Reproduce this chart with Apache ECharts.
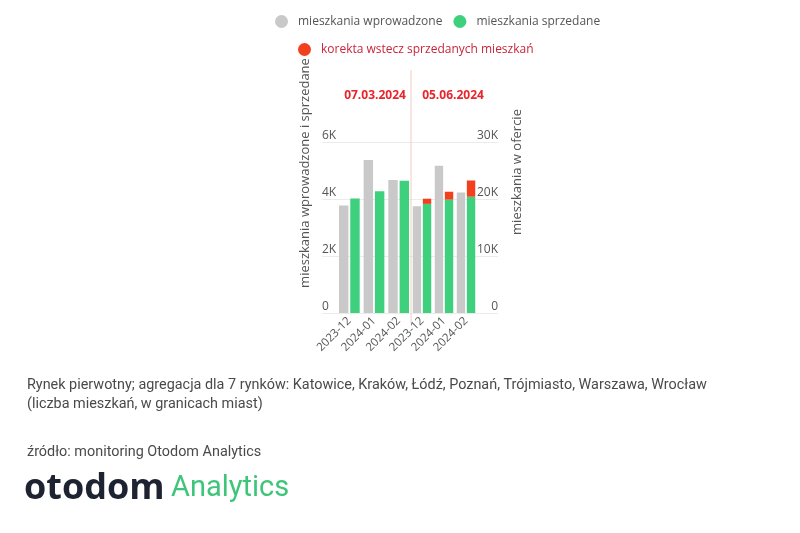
<!DOCTYPE html>
<html>
<head>
<meta charset="utf-8">
<style>
  html, body { margin: 0; padding: 0; background: #fff; }
  #chart { width: 800px; height: 533px; }
</style>
<script src="https://cdn.jsdelivr.net/npm/echarts@6/dist/echarts.min.js"></script>
</head>
<body>
<div id="chart"></div>
<script>
// dane
var months = ['2023-12', '2024-01', '2024-02'];
var snapshotDates = ['07.03.2024', '05.06.2024'];
var leftTicks = [0, 2000, 4000, 6000];
var rightTicks = [0, 10000, 20000, 30000];

// stan z 07.03.2024
var introducedOld = [3770, 5370, 4670];
var soldOld = [4020, 4270, 4640];

// stan z 05.06.2024
var introducedNew = [3750, 5170, 4230];
var soldNew = [3830, 3980, 4080];
var correctionNew = [180, 275, 570];

var GRAY = '#c9c9c9';
var GREEN = '#3fd07e';
var RED = '#f2401f';
var FONT = '"Open Sans", sans-serif';

function fmtK(v) {
  return v === 0 ? '0' : (v / 1000) + 'K';
}

var chart = echarts.init(document.getElementById('chart'));

var option = {
  animation: false,
  textStyle: { fontFamily: FONT },
  legend: [
    {
      data: ['mieszkania wprowadzone', 'mieszkania sprzedane'],
      left: 270, top: 10,
      icon: 'circle', itemWidth: 13, itemHeight: 13, itemGap: 11,
      textStyle: { color: '#555', fontSize: 12, fontFamily: FONT, padding: [0, 0, 0, 5] }
    },
    {
      data: ['korekta wstecz sprzedanych mieszkań'],
      left: 293, top: 38,
      icon: 'circle', itemWidth: 13, itemHeight: 13,
      textStyle: { color: '#c8263a', fontSize: 12, fontFamily: FONT, padding: [0, 0, 0, 5] }
    }
  ],
  grid: [
    // siatka z osiami Y
    { left: 322, right: 302, top: 142, bottom: 220 },
    // słupki: stan z 07.03
    { left: 337, width: 74, top: 142, bottom: 220 },
    // słupki: stan z 05.06
    { left: 411, width: 66, top: 142, bottom: 220 }
  ],
  xAxis: [
    { gridIndex: 0, type: 'category', data: months, show: false },
    {
      gridIndex: 1, type: 'category', data: months,
      axisLine: { show: false }, axisTick: { show: false },
      axisLabel: { rotate: 45, color: '#555', fontSize: 11.5, margin: 6, interval: 0 }
    },
    {
      gridIndex: 2, type: 'category', data: months,
      axisLine: { show: false }, axisTick: { show: false },
      axisLabel: { rotate: 45, color: '#555', fontSize: 11.5, margin: 6, interval: 0 }
    }
  ],
  yAxis: [
    {
      gridIndex: 0, type: 'value', position: 'left',
      min: leftTicks[0], max: leftTicks[leftTicks.length - 1], interval: leftTicks[1] - leftTicks[0],
      axisLine: { show: false }, axisTick: { show: false },
      axisLabel: { inside: true, verticalAlign: 'bottom', margin: 0, padding: [0, 0, 0, 0], color: '#555', fontSize: 12, formatter: fmtK },
      splitLine: { lineStyle: { color: '#ebebeb' } }
    },
    {
      gridIndex: 0, type: 'value', position: 'right',
      min: rightTicks[0], max: rightTicks[rightTicks.length - 1], interval: rightTicks[1] - rightTicks[0],
      axisLine: { show: false }, axisTick: { show: false },
      axisLabel: { inside: true, verticalAlign: 'bottom', margin: 0, padding: [0, 0, 0, 0], color: '#555', fontSize: 12, formatter: fmtK },
      splitLine: { show: false }
    },
    { gridIndex: 1, type: 'value', min: 0, max: 6000, show: false },
    { gridIndex: 2, type: 'value', min: 0, max: 6000, show: false }
  ],
  series: [
    {
      name: 'mieszkania wprowadzone', type: 'bar', xAxisIndex: 1, yAxisIndex: 2,
      data: introducedOld, itemStyle: { color: GRAY }, barGap: '20%', barCategoryGap: '16%'
    },
    {
      name: 'mieszkania sprzedane', type: 'bar', xAxisIndex: 1, yAxisIndex: 2, stack: 'old',
      data: soldOld, itemStyle: { color: GREEN }
    },
    {
      name: 'mieszkania wprowadzone', type: 'bar', xAxisIndex: 2, yAxisIndex: 3,
      data: introducedNew, itemStyle: { color: GRAY }, barGap: '20%', barCategoryGap: '16%'
    },
    {
      name: 'mieszkania sprzedane', type: 'bar', xAxisIndex: 2, yAxisIndex: 3, stack: 'new',
      data: soldNew, itemStyle: { color: GREEN }
    },
    {
      name: 'korekta wstecz sprzedanych mieszkań', type: 'bar', xAxisIndex: 2, yAxisIndex: 3, stack: 'new',
      data: correctionNew, itemStyle: { color: RED }
    }
  ],
  graphic: [
    // linia oddzielająca dwa stany danych
    { type: 'line', shape: { x1: 411, y1: 70, x2: 411, y2: 323 }, style: { stroke: '#f0cdbf', lineWidth: 1 }, z: 10 },
    { type: 'text', x: 375, y: 96, style: { text: snapshotDates[0], align: 'center', verticalAlign: 'middle', fill: '#e8242c', font: 'bold 12px ' + FONT } },
    { type: 'text', x: 453, y: 96, style: { text: snapshotDates[1], align: 'center', verticalAlign: 'middle', fill: '#e8242c', font: 'bold 12px ' + FONT } },
    // nazwy osi
    { type: 'text', x: 305, y: 173, rotation: Math.PI / 2, style: { text: 'mieszkania wprowadzone i sprzedane', align: 'center', verticalAlign: 'middle', fill: '#555', font: '13px ' + FONT } },
    { type: 'text', x: 517, y: 172, rotation: Math.PI / 2, style: { text: 'mieszkania w ofercie', align: 'center', verticalAlign: 'middle', fill: '#555', font: '13px ' + FONT } },
    // opis pod wykresem
    { type: 'text', x: 27, y: 385, style: { text: 'Rynek pierwotny; agregacja dla 7 rynków: Katowice, Kraków, Łódź, Poznań, Trójmiasto, Warszawa, Wrocław', verticalAlign: 'middle', fill: '#4a4a4a', font: '14.4px Roboto' } },
    { type: 'text', x: 27, y: 404, style: { text: '(liczba mieszkań, w granicach miast)', verticalAlign: 'middle', fill: '#4a4a4a', font: '14.4px Roboto' } },
    { type: 'text', x: 27, y: 452, style: { text: 'źródło: monitoring Otodom Analytics', verticalAlign: 'middle', fill: '#4a4a4a', font: '14.4px Roboto' } },
    // logo
    { type: 'text', x: 24, y: 489, style: { text: 'otodom', verticalAlign: 'middle', fill: '#1e2331', font: 'bold 36px ' + FONT } },
    { type: 'text', x: 171, y: 489, style: { text: 'Analytics', verticalAlign: 'middle', fill: '#3fc57a', font: '29px Roboto' } }
  ]
};

chart.setOption(option);
</script>
</body>
</html>
